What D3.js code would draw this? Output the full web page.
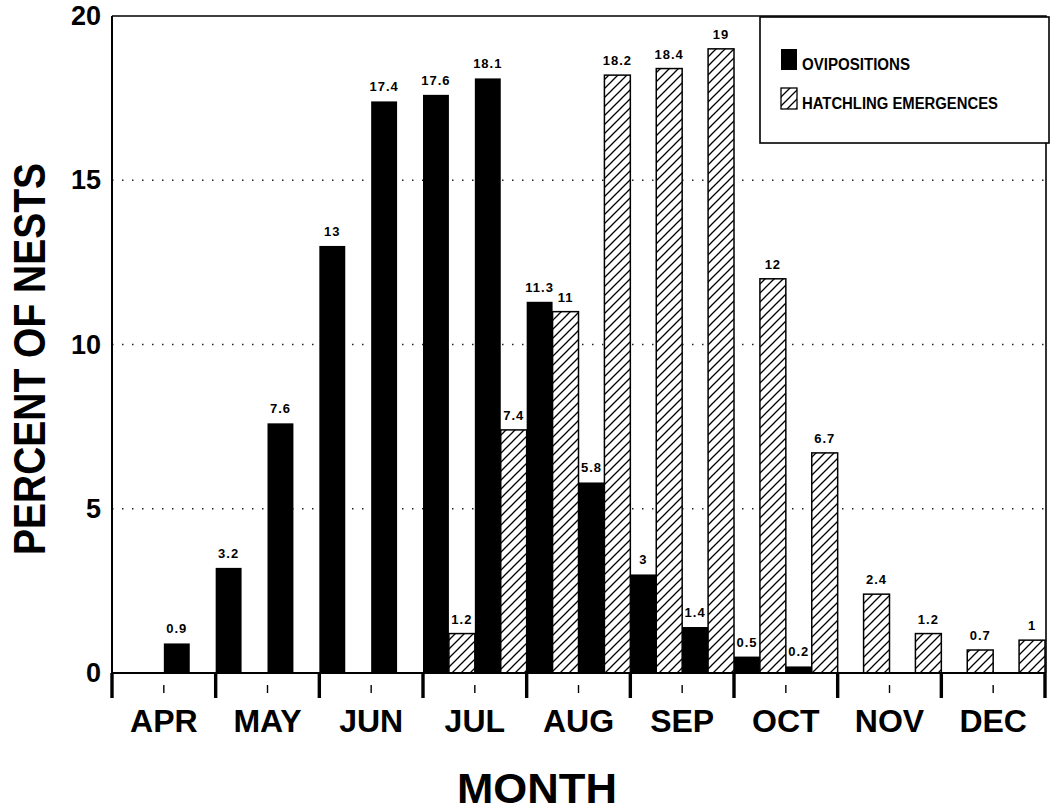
<!DOCTYPE html>
<meta charset="utf-8">
<style>
body { margin: 0; background: #fff; }
text {
  font-family: "Liberation Sans", Arial, Helvetica, sans-serif;
  font-weight: bold;
  fill: #000;
}
.barlabel { font-size: 13px; letter-spacing: 1px; text-anchor: middle; }
</style>
<body>
<script src="https://d3js.org/d3.v7.min.js"></script>
<script>

var width = 1055,
    height = 812;

// plot frame
var plotLeft = 112, plotRight = 1046, plotTop = 16, plotBottom = 673;

var months = ["APR", "MAY", "JUN", "JUL", "AUG", "SEP", "OCT", "NOV", "DEC"];
// each month split into two half-month periods
var halves = months.flatMap(function(m) { return [m + "-1", m + "-2"]; });

var ovipositions = [null, 0.9, 3.2, 7.6, 13, 17.4, 17.6, 18.1, 11.3, 5.8, 3, 1.4, 0.5, 0.2, null, null, null, null];
var hatchlings   = [null, null, null, null, null, null, 1.2, 7.4, 11, 18.2, 18.4, 19, 12, 6.7, 2.4, 1.2, 0.7, 1];

var series = ["ovi", "hatch"];
var seriesNames = ["OVIPOSITIONS", "HATCHLING EMERGENCES"];
var yTicks = [0, 5, 10, 15, 20];
var gridTicks = [5, 10, 15];

var x = d3.scaleBand().domain(halves).range([plotLeft, plotRight - 1]);
var xSub = d3.scaleBand().domain(series).range([0, x.bandwidth()]);
var xMonth = d3.scaleBand().domain(months).range([plotLeft, plotRight - 1]);
var y = d3.scaleLinear().domain([0, 20]).range([plotBottom, plotTop]);

var svg = d3.select("body").append("svg")
    .attr("width", width)
    .attr("height", height);

var defs = svg.append("defs");
var pat = defs.append("pattern")
    .attr("id", "hatch")
    .attr("patternUnits", "userSpaceOnUse")
    .attr("width", 9)
    .attr("height", 9);
pat.append("rect").attr("width", 9).attr("height", 9).attr("fill", "#fff");
pat.append("path")
    .attr("d", "M-2,2 L2,-2 M0,9 L9,0 M7,11 L11,7")
    .attr("stroke", "#000")
    .attr("stroke-width", 1.3);

// dotted grid lines
svg.append("g").selectAll("line")
    .data(gridTicks)
  .enter().append("line")
    .attr("x1", plotLeft)
    .attr("x2", plotRight)
    .attr("y1", function(d) { return y(d); })
    .attr("y2", function(d) { return y(d); })
    .attr("stroke", "#222")
    .attr("stroke-width", 1.4)
    .attr("stroke-dasharray", "1.5,8.5");

// rows of bar data
var rows = [];
halves.forEach(function(h, i) {
  if (ovipositions[i] != null) rows.push({ period: h, key: "ovi", value: ovipositions[i] });
  if (hatchlings[i] != null) rows.push({ period: h, key: "hatch", value: hatchlings[i] });
});

svg.append("g").selectAll("rect")
    .data(rows)
  .enter().append("rect")
    .attr("x", function(d) { return x(d.period) + xSub(d.key); })
    .attr("y", function(d) { return y(d.value); })
    .attr("width", xSub.bandwidth())
    .attr("height", function(d) { return y(0) - y(d.value); })
    .attr("fill", function(d) { return d.key === "ovi" ? "#000" : "url(#hatch)"; })
    .attr("stroke", "#000")
    .attr("stroke-width", function(d) { return d.key === "ovi" ? 0 : 1.5; });

svg.append("g").selectAll("text")
    .data(rows)
  .enter().append("text")
    .attr("class", "barlabel")
    .attr("x", function(d) { return x(d.period) + xSub(d.key) + xSub.bandwidth() / 2; })
    .attr("y", function(d) { return y(d.value) - 10; })
    .text(function(d) { return d.value; });

// frame
svg.append("path")
    .attr("d", "M" + plotLeft + "," + plotTop + "H" + plotRight + "V" + plotBottom)
    .attr("fill", "none")
    .attr("stroke", "#000")
    .attr("stroke-width", 1.6);
svg.append("line")
    .attr("x1", plotLeft).attr("x2", plotLeft)
    .attr("y1", plotTop).attr("y2", plotBottom)
    .attr("stroke", "#000").attr("stroke-width", 2);
svg.append("line")
    .attr("x1", plotLeft).attr("x2", plotRight)
    .attr("y1", plotBottom).attr("y2", plotBottom)
    .attr("stroke", "#000").attr("stroke-width", 2);

// y axis labels
var yAxis = svg.append("g")
    .attr("transform", "translate(" + (plotLeft - 11) + ",0)")
    .call(d3.axisLeft(y).tickValues(yTicks).tickSize(0).tickPadding(0));
yAxis.select(".domain").remove();
yAxis.selectAll("text")
    .style("font-size", "27px")
    .style("font-family", "\"Liberation Sans\", Arial, sans-serif")
    .style("font-weight", "bold");

// month boundary ticks
svg.append("g").selectAll("line")
    .data(months.concat(["END"]))
  .enter().append("line")
    .attr("x1", function(d, i) { return i < months.length ? xMonth(d) : xMonth.range()[1]; })
    .attr("x2", function(d, i) { return i < months.length ? xMonth(d) : xMonth.range()[1]; })
    .attr("y1", plotBottom)
    .attr("y2", plotBottom + 25)
    .attr("stroke", "#000")
    .attr("stroke-width", 3.4);

// mid-month ticks and month labels
var xAxis = svg.append("g")
    .attr("transform", "translate(0," + plotBottom + ")")
    .call(d3.axisBottom(xMonth).tickSize(0).tickPadding(0));
xAxis.select(".domain").remove();
xAxis.selectAll(".tick line")
    .attr("y1", 12)
    .attr("y2", 20)
    .attr("stroke", "#000")
    .attr("stroke-width", 1.4);
xAxis.selectAll(".tick text")
    .attr("y", 59)
    .attr("dy", null)
    .style("font-size", "32px")
    .style("font-family", "\"Liberation Sans\", Arial, sans-serif")
    .style("font-weight", "bold");

// axis titles
svg.append("text")
    .attr("transform", "translate(45," + 359 + ") rotate(-90)")
    .attr("text-anchor", "middle")
    .attr("textLength", 392)
    .attr("lengthAdjust", "spacingAndGlyphs")
    .style("font-size", "44px")
    .text("PERCENT OF NESTS");

svg.append("text")
    .attr("x", 537)
    .attr("y", 803)
    .attr("text-anchor", "middle")
    .attr("textLength", 160)
    .attr("lengthAdjust", "spacingAndGlyphs")
    .style("font-size", "43px")
    .text("MONTH");

// legend
var legend = svg.append("g");
legend.append("rect")
    .attr("x", 760).attr("y", 17)
    .attr("width", 289).attr("height", 126)
    .attr("fill", "#fff")
    .attr("stroke", "#000")
    .attr("stroke-width", 1.6);

var legendY = d3.scalePoint().domain(series).range([49, 88]);
var legendLen = [108, 196];

var item = legend.selectAll(".item")
    .data(series)
  .enter().append("g")
    .attr("class", "item")
    .attr("transform", function(d) { return "translate(781," + legendY(d) + ")"; });
item.append("rect")
    .attr("width", 16)
    .attr("height", 21)
    .attr("fill", function(d) { return d === "ovi" ? "#000" : "url(#hatch)"; })
    .attr("stroke", "#000")
    .attr("stroke-width", function(d) { return d === "ovi" ? 0 : 1.3; });
item.append("text")
    .attr("x", 21)
    .attr("y", 21)
    .attr("textLength", function(d, i) { return legendLen[i]; })
    .attr("lengthAdjust", "spacingAndGlyphs")
    .style("font-size", "16px")
    .text(function(d, i) { return seriesNames[i]; });

</script>
